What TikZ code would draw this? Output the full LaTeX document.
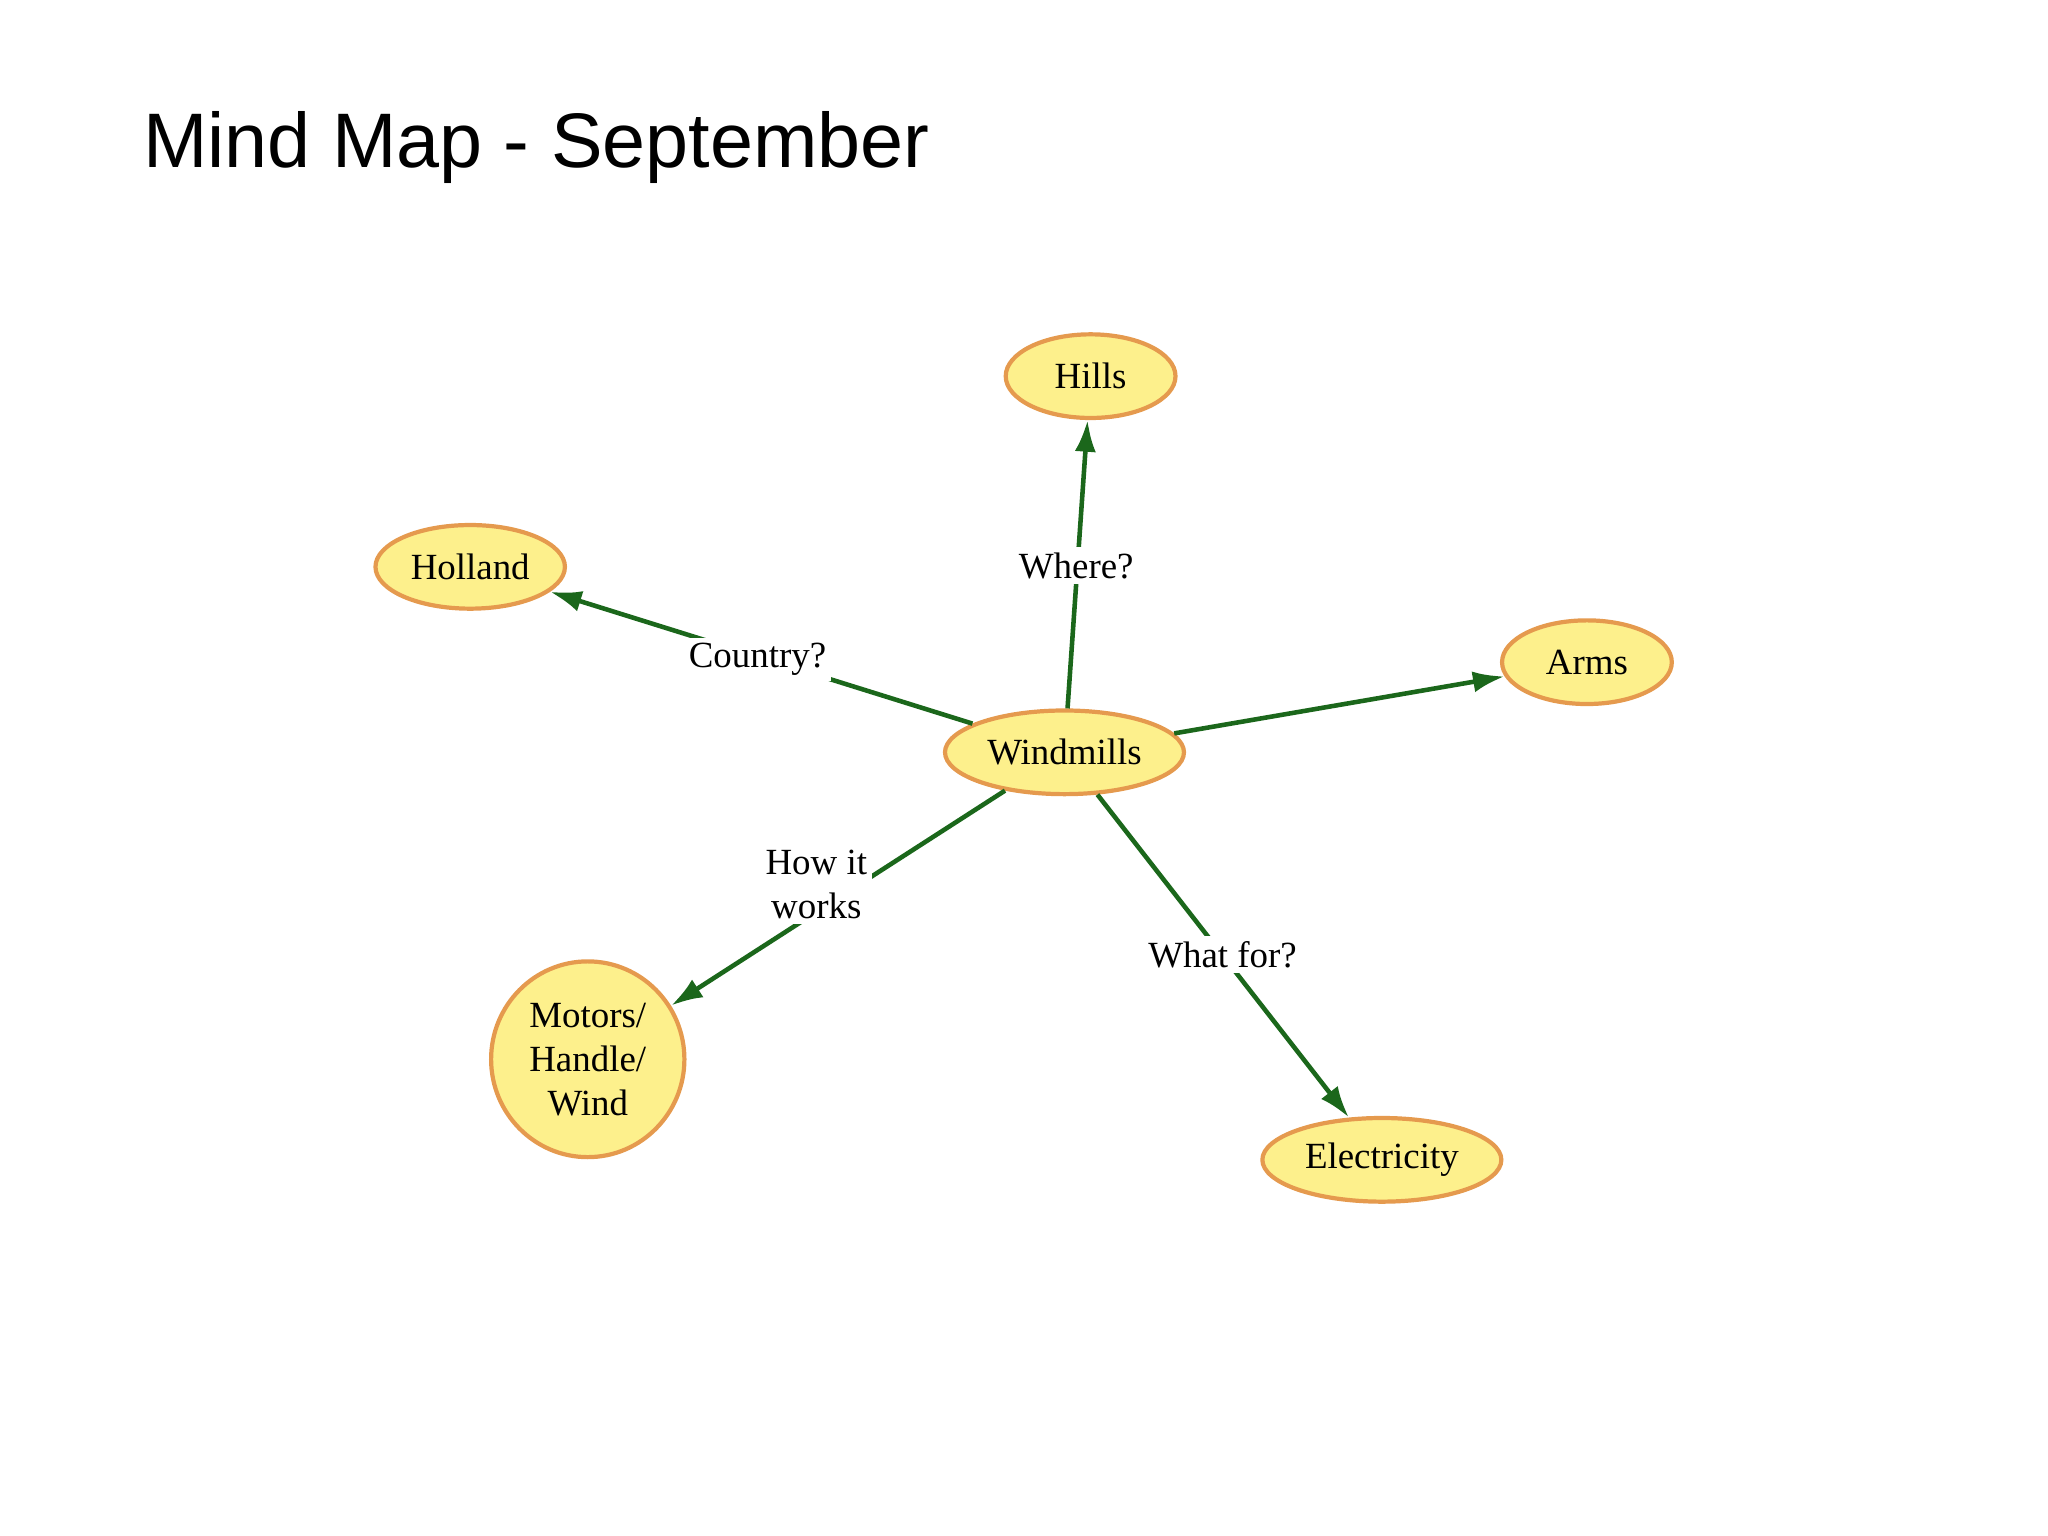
\documentclass[tikz,border=0pt]{standalone}
\usepackage{fontspec}
\setmainfont{Liberation Serif}
\newfontfamily\titlefont{Liberation Sans}
\usetikzlibrary{shapes.geometric,arrows.meta}
\definecolor{nodefill}{HTML}{FDF08C}
\definecolor{nodeline}{HTML}{E59A4E}
\definecolor{edgegreen}{HTML}{1B671B}
\begin{document}
\begin{tikzpicture}[x=0.013061cm,y=-0.013061cm,
  idea/.style={ellipse,draw=nodeline,line width=1.2pt,fill=nodefill,inner sep=0pt,font=\fontsize{10.5}{12.5}\selectfont,align=center},
  link/.style={draw=edgegreen,line width=1.3pt,-{Latex[length=9pt,width=6pt]}},
  lbl/.style={fill=white,inner sep=1.5pt,font=\fontsize{10.5}{12.5}\selectfont,align=center}]
\useasboundingbox (0,0) rectangle (1568,1176);
\node[anchor=base west,font=\titlefont\fontsize{22}{26}\selectfont] (title) at (100,128) {Mind Map - September};
\node[idea,minimum width=68pt,minimum height=23.8pt] (wind) at (815,576) {Windmills};
\node[idea,minimum width=48.3pt,minimum height=23.8pt] (hills) at (835,288) {Hills};
\node[idea,minimum width=53.9pt,minimum height=23.8pt] (holl) at (360,434) {Holland};
\node[idea,minimum width=48.3pt,minimum height=23.8pt] (arms) at (1215,507) {Arms};
\node[idea,minimum width=55pt,minimum height=55.7pt] (mot) at (450,811) {Motors/\\Handle/\\Wind};
\node[idea,minimum width=68pt,minimum height=23.8pt] (elec) at (1058,888) {Electricity};
\draw[link] (wind) -- (hills);
\draw[link] (wind) -- (holl);
\draw[link] (wind) -- (arms);
\draw[link] (wind) -- (mot);
\draw[link] (wind) -- (elec);
\node[lbl] (l1) at (824,433) {Where?};
\node[lbl] (l2) at (580,505) {Country?};
\node[lbl] (l3) at (625,677) {How it\\works};
\node[lbl] (l4) at (936,731) {What for?};
\end{tikzpicture}
\end{document}
